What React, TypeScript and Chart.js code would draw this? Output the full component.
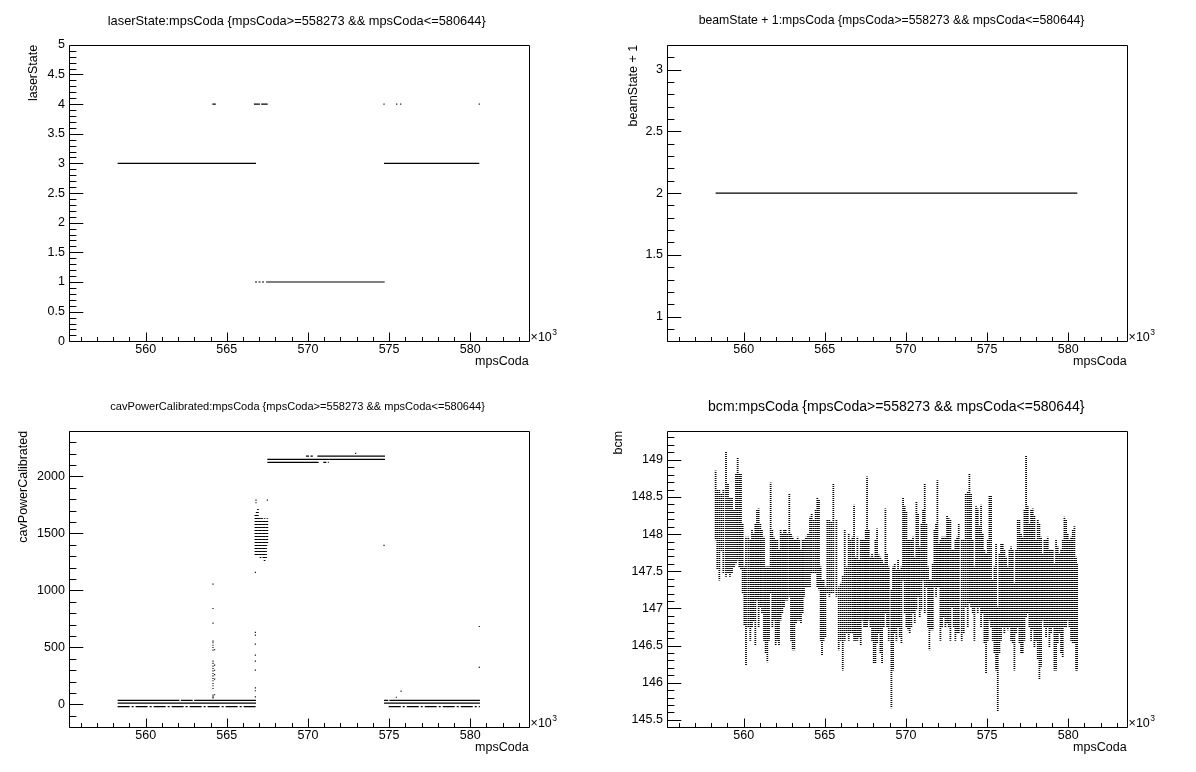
import React, { useEffect, useRef } from "react";
import { Chart, registerables } from "chart.js";

Chart.register(...registerables);

const FONT = '"Liberation Sans", Arial, Helvetica, sans-serif';
const PW = 598;
const PH = 386;

// ---------- shared x axis (mpsCoda) ----------
const xRange = [555300, 583600];
const xTickValues = [560000, 565000, 570000, 575000, 580000];
const xTickLabels = ["560", "565", "570", "575", "580"];
const xTitle = "mpsCoda";

// ---------- panel 1 : laserState ----------
const laserTitle = "laserState:mpsCoda {mpsCoda>=558273 && mpsCoda<=580644}";
const laserYTitle = "laserState";
const laserRange = [0, 5];
const laserTicks = [0, 0.5, 1, 1.5, 2, 2.5, 3, 3.5, 4, 4.5, 5];
const laserTickLabels = ["0", "0.5", "1", "1.5", "2", "2.5", "3", "3.5", "4", "4.5", "5"];
const laserSolidFrom = [558273, 574690, 567420, 564110, 566670, 567120];
const laserSolidTo = [566800, 580560, 574730, 564320, 567040, 567520];
const laserSolidY = [3, 3, 1, 4, 4, 4];
const laserDashFrom = [566740];
const laserDashTo = [567300];
const laserDashY = [1];
const laserDotX = [574690, 575470, 575720, 580560];
const laserDotY = [4, 4, 4, 4];

// ---------- panel 2 : beamState + 1 ----------
const beamTitle = "beamState + 1:mpsCoda {mpsCoda>=558273 && mpsCoda<=580644}";
const beamYTitle = "beamState + 1";
const beamRange = [0.8, 3.2];
const beamTicks = [1, 1.5, 2, 2.5, 3];
const beamTickLabels = ["1", "1.5", "2", "2.5", "3"];
const beamSolidFrom = [558273];
const beamSolidTo = [580560];
const beamSolidY = [2];

// ---------- panel 3 : cavPowerCalibrated ----------
const cavTitle = "cavPowerCalibrated:mpsCoda {mpsCoda>=558273 && mpsCoda<=580644}";
const cavYTitle = "cavPowerCalibrated";
const cavRange = [-200, 2400];
const cavTicks = [0, 500, 1000, 1500, 2000];
const cavTickLabels = ["0", "500", "1000", "1500", "2000"];
const cavSolidFrom = [558273, 562170, 562990, 558273, 574690, 575020, 574690, 570580, 567500, 567500];
const cavSolidTo = [562080, 562900, 566800, 566800, 574950, 580600, 580600, 574750, 574750, 570660];
const cavSolidY = [36, 36, 36, 12, 36, 36, 12, 2178, 2149, 2123];
const cavDashDotFrom = [558273, 574980];
const cavDashDotTo = [566800, 580600];
const cavDashDotY = [-18, -18];
const cavDashFrom = [569880, 570950];
const cavDashTo = [570300, 571280];
const cavDashY = [2178, 2123];
const cavDotX = [
  564150, 564150, 564150, 564150, 564150, 564150, 564150, 564150, 564150, 564150,
  564150, 564150, 564150, 564150, 564150, 564150, 564150, 564150, 564150, 564150,
  564150, 564150, 564150, 564250, 564250, 564250, 564250, 564250, 564250,
  566760, 566760, 566760, 566760, 566760, 566760, 566760, 566760, 566760, 566760,
  566800, 566800, 567500, 574690, 575740, 575450, 580560, 580560, 572940,
];
const cavDotY = [
  1056, 842, 713, 556, 541, 520, 500, 477, 380, 360,
  336, 316, 295, 272, 251, 228, 208, 184, 164, 140,
  82, 67, 58, 345, 300, 262, 222, 480, 85,
  1158, 632, 608, 529, 433, 380, 301, 146, 120, 67,
  1792, 1769, 1792, 1395, 117, 64, 684, 325, 2202,
];
const cavBlockX = [566760, 566840, 566920, 567000, 567080, 567170, 567250, 567330, 567420, 567500];
const cavBlockLow = [1310, 1310, 1300, 1300, 1280, 1300, 1270, 1260, 1270, 1400];
const cavBlockHigh = [1670, 1700, 1720, 1640, 1630, 1640, 1620, 1630, 1620, 1630];

// ---------- panel 4 : bcm ----------
const bcmTitle = "bcm:mpsCoda {mpsCoda>=558273 && mpsCoda<=580644}";
const bcmYTitle = "bcm";
const bcmRange = [145.4, 149.39];
const bcmTicks = [145.5, 146, 146.5, 147, 147.5, 148, 148.5, 149];
const bcmTickLabels = ["145.5", "146", "146.5", "147", "147.5", "148", "148.5", "149"];
const bcmX = [
  558273, 558377, 558500, 558623, 558746, 558911, 559034, 559157, 559281, 559404,
  559527, 559630, 559732, 559835, 559938, 560041, 560143, 560287, 560410, 560513,
  560616, 560719, 560821, 560924, 561027, 561129, 561253, 561355, 561458, 561561,
  561663, 561766, 561869, 561972, 562074, 562177, 562280, 562382, 562485, 562588,
  562690, 562814, 562917, 563019, 563122, 563225, 563328, 563430, 563533, 563636,
  563718, 563841, 563964, 564088, 564190, 564313, 564437, 564539, 564642, 564745,
  564827, 564930, 565033, 565156, 565279, 565402, 565526,
  565715, 565859, 565982, 566106, 566229, 566352, 566475, 566578, 566701, 566804,
  566907, 567010, 567112, 567215, 567318, 567420, 567523, 567605, 567708, 567811,
  567913, 568016, 568119, 568222, 568324, 568427, 568530, 568632, 568735, 568838,
  568941, 569105, 569208, 569310, 569413, 569516, 569618, 569721, 569824, 569927,
  570029, 570132, 570235, 570337, 570440, 570543, 570646, 570748, 570851, 570954,
  571056, 571159, 571262, 571365, 571447, 571550, 571652, 571755, 571858, 571940,
  572043, 572125, 572227, 572330, 572433, 572536, 572638, 572741, 572844, 572946,
  573049, 573152, 573255,
  573440, 573563, 573686, 573810, 573912, 574015, 574118, 574220, 574323, 574426,
  574529, 574631, 574734, 574837, 574939, 575042, 575145, 575248, 575350, 575453,
  575556, 575659, 575761, 575864, 575967, 576069, 576172, 576275, 576377, 576480,
  576583, 576686, 576788, 576891, 576994, 577097, 577199, 577302, 577405, 577507,
  577610, 577713, 577816, 577918, 578021, 578124, 578226, 578329, 578432, 578535,
  578637, 578740, 578843, 578945, 579048, 579151, 579253, 579356, 579459, 579562,
  579664, 579767, 579870, 579972, 580075, 580178, 580281, 580383, 580486, 580548,
];
const bcmHigh = [
  148.85, 148.59, 148.59, 148.54, 148.59, 149.10, 148.68, 148.48, 148.48, 148.32,
  148.81, 149.02, 148.81, 148.81, 148.14, 147.56, 147.96, 147.96, 147.92, 148.05,
  148.01, 148.14, 148.32, 148.34, 148.14, 148.05, 147.96, 147.56, 147.56, 147.56,
  148.69, 148.05, 147.96, 147.92, 147.92, 147.78, 148.05, 148.01, 148.05, 148.05,
  148.01, 148.55, 148.01, 147.96, 147.92, 147.92, 147.96, 147.92, 147.78, 147.92,
  147.92, 147.96, 148.01, 148.23, 148.28, 148.19, 148.32, 148.48, 148.46, 147.56,
  147.38, 147.38, 147.29, 148.19, 148.19, 148.16, 148.68,
  148.19, 147.29, 147.34, 147.43, 148.05, 147.56, 148.01, 147.92, 147.96, 148.39,
  147.69, 147.96, 147.65, 147.92, 147.92, 147.92, 148.05, 148.77, 148.05, 147.69,
  147.74, 147.69, 147.92, 148.07, 147.72, 147.69, 147.65, 147.60, 148.34, 147.74,
  147.56, 147.25, 147.56, 147.60, 147.52, 147.65, 147.52, 147.56, 148.48, 148.37,
  148.30, 147.92, 147.92, 147.92, 147.96, 147.69, 148.43, 148.28, 147.83, 148.14,
  148.32, 148.68, 148.14, 147.56, 147.38, 147.38, 147.60, 148.05, 148.14, 148.72,
  147.87, 147.92, 147.96, 147.96, 147.96, 148.25, 148.21, 148.19, 147.78, 147.78,
  147.92, 147.96, 148.14,
  147.92, 147.92, 148.54, 148.57, 148.81, 148.54, 147.92, 147.56, 148.37, 148.34,
  148.10, 148.39, 148.01, 147.78, 147.74, 147.92, 148.52, 148.52, 147.38, 147.56,
  147.87, 147.02, 147.74, 147.87, 147.87, 147.78, 147.69, 147.56, 147.78, 147.83,
  147.78, 147.34, 147.78, 148.19, 148.19, 148.01, 147.96, 148.32, 149.06, 148.37,
  148.14, 148.32, 148.34, 148.25, 147.92, 148.19, 148.14, 147.96, 147.74, 147.92,
  147.92, 147.96, 147.78, 147.78, 147.78, 147.60, 147.92, 147.83, 147.74, 147.78,
  147.92, 148.23, 148.19, 148.01, 147.92, 147.96, 148.05, 148.10, 147.69, 147.60,
];
const bcmLow = [
  147.92, 147.52, 147.38, 147.78, 147.47, 147.43, 147.47, 147.43, 147.47, 147.56,
  147.60, 147.65, 147.56, 147.52, 147.20, 146.78, 146.24, 146.75, 146.57, 146.75,
  146.82, 146.51, 147.11, 146.75, 147.02, 146.93, 146.57, 146.39, 146.28, 146.57,
  147.20, 146.75, 146.84, 146.51, 146.57, 146.51, 146.84, 146.93, 147.02, 147.11,
  147.11, 147.16, 146.57, 146.44, 146.44, 146.80, 146.84, 146.84, 146.80, 146.93,
  147.16, 147.29, 147.29, 147.29, 147.47, 147.47, 147.47, 147.29, 147.25, 146.57,
  146.37, 146.57, 146.62, 147.20, 147.16, 147.20, 147.20,
  147.16, 146.44, 146.57, 146.17, 146.57, 146.66, 146.57, 146.66, 146.66, 146.57,
  146.57, 146.57, 146.62, 146.51, 146.84, 146.75, 146.75, 146.75, 146.84, 146.75,
  146.57, 146.26, 146.26, 146.53, 146.66, 146.39, 146.26, 146.75, 146.93, 146.75,
  146.57, 145.66, 146.17, 146.66, 146.57, 146.75, 146.62, 146.53, 147.38, 146.93,
  146.75, 146.71, 146.66, 146.75, 146.93, 146.80, 146.98, 147.16, 146.89, 146.98,
  147.38, 146.93, 147.29, 146.75, 146.44, 146.71, 146.71, 147.29, 147.16, 147.29,
  147.29, 146.57, 146.75, 146.89, 146.75, 146.80, 146.75, 146.57, 147.02, 146.75,
  146.57, 146.66, 146.66,
  146.57, 146.66, 147.02, 146.75, 147.07, 147.02, 146.93, 146.57, 147.02, 146.93,
  147.02, 146.75, 146.93, 146.53, 146.13, 146.57, 146.84, 146.75, 146.57, 146.39,
  146.17, 145.61, 146.39, 146.57, 146.75, 146.66, 146.75, 146.71, 146.75, 146.57,
  146.53, 146.17, 146.66, 146.75, 146.53, 146.39, 146.39, 146.57, 146.89, 146.93,
  146.75, 146.57, 146.71, 146.48, 146.57, 146.31, 146.04, 146.22, 146.84, 146.75,
  146.62, 146.75, 146.48, 146.66, 146.75, 146.17, 146.17, 146.53, 146.66, 146.39,
  146.35, 146.75, 146.75, 146.84, 146.75, 146.57, 146.53, 146.53, 146.17, 146.17,
];

// ---------- helpers ----------
type Ds = any;

function segs(from: number[], to: number[], ys: number[], dash: number[]): Ds[] {
  return from.map((x0, i) => ({
    type: "line",
    data: [
      { x: x0, y: ys[i] },
      { x: to[i], y: ys[i] },
    ],
    borderColor: "#000",
    borderWidth: 1.2,
    borderDash: dash,
    pointRadius: 0,
    fill: false,
    tension: 0,
  }));
}

function dots(xs: number[], ys: number[]): Ds {
  return {
    type: "scatter",
    data: xs.map((x, i) => ({ x, y: ys[i] })),
    pointStyle: "rect",
    pointRadius: 0.8,
    pointHoverRadius: 0.8,
    backgroundColor: "#000",
    borderWidth: 0,
  };
}

function columns(xs: number[], lo: number[], hi: number[], fill: any, thick: number): Ds {
  return {
    type: "bar",
    data: xs.map((x, i) => ({ x, y: [lo[i], hi[i]] })),
    backgroundColor: fill,
    borderWidth: 0,
    barThickness: thick,
    grouped: false,
  };
}

function dotPattern(ctx: CanvasRenderingContext2D, w: number, h: number) {
  const c = document.createElement("canvas");
  c.width = w;
  c.height = h;
  const g = c.getContext("2d")!;
  g.fillStyle = "#000";
  g.fillRect(0, 0, 1, 1);
  return ctx.createPattern(c, "repeat");
}

type PanelDef = {
  title: string;
  titleL: number;
  titleR: number;
  yTitle: string;
  yTitleX: number;
  yRange: number[];
  yTicks: number[];
  yLabels: string[];
  yMinor: number;
  yMajorEvery: number;
  build: (ctx: CanvasRenderingContext2D) => Ds[];
};

function rootPlugin(p: PanelDef) {
  return {
    id: "rootFrame",
    afterDraw(chart: any) {
      const ctx: CanvasRenderingContext2D = chart.ctx;
      const a = chart.chartArea;
      const xs = chart.scales.x;
      const ys = chart.scales.y;
      const L = Math.round(a.left) + 0.5;
      const R = Math.round(a.right) + 0.5;
      const T = Math.round(a.top) + 0.5;
      const B = Math.round(a.bottom) + 0.5;
      ctx.save();
      ctx.strokeStyle = "#000";
      ctx.lineWidth = 1;
      ctx.beginPath();
      ctx.rect(L, T, R - L, B - T);
      const xStep = 1000;
      for (let i = Math.ceil(xs.min / xStep); i * xStep <= xs.max; i++) {
        const px = Math.round(xs.getPixelForValue(i * xStep)) + 0.5;
        const len = i % 5 === 0 ? 9 : 4.5;
        ctx.moveTo(px, B);
        ctx.lineTo(px, B - len);
      }
      const s = p.yMinor;
      for (let i = Math.ceil(ys.min / s - 1e-6); i * s <= ys.max + 1e-9; i++) {
        const py = Math.round(ys.getPixelForValue(i * s)) + 0.5;
        const len = i % p.yMajorEvery === 0 ? 13.8 : 6.9;
        ctx.moveTo(L, py);
        ctx.lineTo(L + len, py);
      }
      ctx.stroke();

      ctx.fillStyle = "#000";
      ctx.font = `12.5px ${FONT}`;
      ctx.textAlign = "right";
      ctx.textBaseline = "middle";
      ctx.fillText(xTitle, a.right, 361.5);
      ctx.textAlign = "left";
      ctx.textBaseline = "alphabetic";
      ctx.fillText("\u00d710", a.right + 2, 340.5);
      const w10 = ctx.measureText("\u00d710").width;
      ctx.font = `8.5px ${FONT}`;
      ctx.fillText("3", a.right + 2 + w10 + 0.5, 335);
      ctx.font = `12.5px ${FONT}`;
      ctx.save();
      ctx.translate(p.yTitleX, a.top);
      ctx.rotate(-Math.PI / 2);
      ctx.textAlign = "right";
      ctx.textBaseline = "middle";
      ctx.fillText(p.yTitle, 0, 0);
      ctx.restore();
      ctx.font = `100px ${FONT}`;
      const tw = ctx.measureText(p.title).width;
      const size = (100 * (p.titleR - p.titleL)) / tw;
      ctx.font = `${size}px ${FONT}`;
      ctx.textAlign = "center";
      ctx.textBaseline = "middle";
      ctx.fillText(p.title, (p.titleL + p.titleR) / 2, 21);
      ctx.restore();
    },
  };
}

function Panel({ def, left, top }: { def: PanelDef; left: number; top: number }) {
  const ref = useRef<HTMLCanvasElement>(null);
  useEffect(() => {
    const canvas = ref.current!;
    const ctx = canvas.getContext("2d")!;
    const chart = new Chart(canvas, {
      type: "bar",
      data: { datasets: def.build(ctx) },
      options: {
        animation: false,
        responsive: false,
        devicePixelRatio: 1,
        events: [],
        layout: { padding: { top: 44.8, right: 69.4, left: 0, bottom: 0 } },
        plugins: { legend: { display: false }, tooltip: { enabled: false }, title: { display: false } },
        scales: {
          x: {
            type: "linear",
            min: xRange[0],
            max: xRange[1],
            offset: false,
            bounds: "data",
            grid: { display: false, drawTicks: false, offset: false },
            border: { display: false },
            afterBuildTicks: (s: any) => {
              s.ticks = xTickValues.map((v) => ({ value: v }));
            },
            afterFit: (s: any) => {
              s.height = 44.7;
            },
            ticks: {
              autoSkip: false,
              maxRotation: 0,
              minRotation: 0,
              padding: 1,
              color: "#000",
              font: { family: FONT, size: 12.5 },
              callback: (_v: any, i: number) => xTickLabels[i],
            },
          },
          y: {
            type: "linear",
            min: def.yRange[0],
            max: def.yRange[1],
            beginAtZero: false,
            bounds: "data",
            grid: { display: false, drawTicks: false },
            border: { display: false },
            afterBuildTicks: (s: any) => {
              s.ticks = def.yTicks.map((v) => ({ value: v }));
            },
            afterFit: (s: any) => {
              s.width = 69.4;
            },
            ticks: {
              autoSkip: false,
              padding: 4.5,
              color: "#000",
              font: { family: FONT, size: 12.5 },
              callback: (_v: any, i: number) => def.yLabels[i],
            },
          },
        },
      } as any,
      plugins: [rootPlugin(def)],
    });
    return () => chart.destroy();
  }, []);
  return (
    <canvas
      ref={ref}
      width={PW}
      height={PH}
      style={{ position: "absolute", left, top, width: PW, height: PH }}
    />
  );
}

const panels: PanelDef[] = [
  {
    title: laserTitle,
    titleL: 107.5,
    titleR: 486,
    yTitle: laserYTitle,
    yTitleX: 33.3,
    yRange: laserRange,
    yTicks: laserTicks,
    yLabels: laserTickLabels,
    yMinor: 0.1,
    yMajorEvery: 5,
    build: () => [
      ...segs(laserSolidFrom, laserSolidTo, laserSolidY, []),
      ...segs(laserDashFrom, laserDashTo, laserDashY, [2, 1.5]),
      dots(laserDotX, laserDotY),
    ],
  },
  {
    title: beamTitle,
    titleL: 100.6,
    titleR: 486.5,
    yTitle: beamYTitle,
    yTitleX: 35.2,
    yRange: beamRange,
    yTicks: beamTicks,
    yLabels: beamTickLabels,
    yMinor: 0.1,
    yMajorEvery: 5,
    build: () => [...segs(beamSolidFrom, beamSolidTo, beamSolidY, [])],
  },
  {
    title: cavTitle,
    titleL: 110,
    titleR: 485.3,
    yTitle: cavYTitle,
    yTitleX: 23.7,
    yRange: cavRange,
    yTicks: cavTicks,
    yLabels: cavTickLabels,
    yMinor: 100,
    yMajorEvery: 5,
    build: (ctx) => [
      ...segs(cavSolidFrom, cavSolidTo, cavSolidY, []),
      ...segs(cavDashDotFrom, cavDashDotTo, cavDashDotY, [12, 2, 2, 2]),
      ...segs(cavDashFrom, cavDashTo, cavDashY, [3, 1.5]),
      dots(cavDotX, cavDotY),
      columns(cavBlockX, cavBlockLow, cavBlockHigh, dotPattern(ctx, 1, 3), 1),
    ],
  },
  {
    title: bcmTitle,
    titleL: 110,
    titleR: 486.5,
    yTitle: bcmYTitle,
    yTitleX: 20.3,
    yRange: bcmRange,
    yTicks: bcmTicks,
    yLabels: bcmTickLabels,
    yMinor: 0.1,
    yMajorEvery: 5,
    build: (ctx) => [columns(bcmX, bcmLow, bcmHigh, dotPattern(ctx, 1, 2), 1.1)],
  },
];

export default function App() {
  return (
    <div
      style={{
        position: "absolute",
        left: 0,
        top: 0,
        width: 1196,
        height: 772,
        background: "#fff",
        overflow: "hidden",
      }}
    >
      <Panel def={panels[0]} left={0} top={0} />
      <Panel def={panels[1]} left={PW} top={0} />
      <Panel def={panels[2]} left={0} top={PH} />
      <Panel def={panels[3]} left={PW} top={PH} />
    </div>
  );
}
